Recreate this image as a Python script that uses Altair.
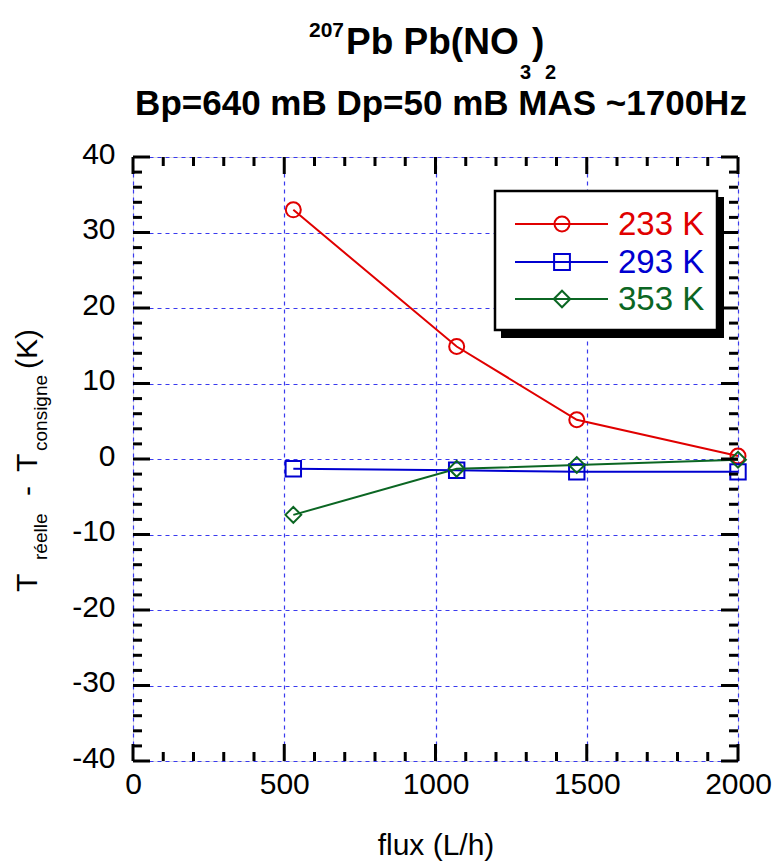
import altair as alt
import pandas as pd

# ---------------- data ----------------
flux = [530, 1070, 1467, 2000]
t233 = [33.0, 14.9, 5.2, 0.4]
t293 = [-1.3, -1.5, -1.7, -1.7]
t353 = [-7.4, -1.3, -0.8, -0.1]
series = ["233 K", "293 K", "353 K"]
colors = ["#e00000", "#0000d0", "#0b6623"]
shapes = ["circle", "square", "diamond"]
x_ticks = [0, 500, 1000, 1500, 2000]
y_ticks = [-40, -30, -20, -10, 0, 10, 20, 30, 40]
x_minor = [v for v in range(0, 2001, 100) if v % 500]
y_minor = [v for v in range(-40, 41, 2) if v % 10]

W, H = 605, 604
FONT = "Liberation Sans"

rows = []
for s, vals in zip(series, [t233, t293, t353]):
    for f, v in zip(flux, vals):
        rows.append({"flux": f, "dT": v, "serie": s})
df = pd.DataFrame(rows)

xs = alt.Scale(domain=[0, 2000], nice=False, zero=False)
ys = alt.Scale(domain=[-40, 40], nice=False, zero=False)

x_axis = alt.Axis(values=x_ticks, title="flux (L/h)", grid=True, ticks=False, tickSize=0,
                  domain=False, labelFontSize=30, labelPadding=8, labelFont=FONT,
                  labelColor="black", titleFont=FONT, titleFontSize=30,
                  labelExpr="'' + datum.value",
                  titleFontWeight="normal", titleColor="black", titlePadding=31,
                  gridColor="#3a3aee", gridDash=[4, 4], gridWidth=1.2, labelFlush=False)
y_axis = alt.Axis(values=y_ticks, title=None, grid=True, ticks=False, tickSize=0,
                  domain=False, labelFontSize=30, labelPadding=18, labelFont=FONT,
                  labelColor="black", labelOffset=-3,
                  labelExpr="'' + datum.value",
                  gridColor="#3a3aee", gridDash=[4, 4], gridWidth=1.2, labelFlush=False)


def X(field="flux"):
    return alt.X(f"{field}:Q", scale=xs, axis=x_axis)


def Y(field="dT"):
    return alt.Y(f"{field}:Q", scale=ys, axis=y_axis)


color = alt.Color("serie:N", scale=alt.Scale(domain=series, range=colors), legend=None)
shape = alt.Shape("serie:N", scale=alt.Scale(domain=series, range=shapes), legend=None)
size = alt.Size("serie:N", scale=alt.Scale(domain=series, range=[225, 250, 270]), legend=None)

base = alt.Chart(df)
lines = base.mark_line(strokeWidth=2).encode(x=X(), y=Y(), color=color)
points = base.mark_point(filled=False, strokeWidth=2, opacity=1).encode(
    x=X(), y=Y(), color=color, shape=shape, size=size)

# ---------------- inward ticks on the frame ----------------
tick_layers = []
for vals, ln in [(y_ticks, 17), (y_minor, 9)]:
    d = alt.Chart(pd.DataFrame({"dT": vals}))
    tick_layers.append(d.mark_rule(color="black", strokeWidth=3).encode(
        y=Y(), x=alt.value(0), x2=alt.value(ln)))
    tick_layers.append(d.mark_rule(color="black", strokeWidth=3).encode(
        y=Y(), x=alt.value(W), x2=alt.value(W - ln)))
for vals, ln in [(x_ticks, 17), (x_minor, 9)]:
    d = alt.Chart(pd.DataFrame({"flux": vals}))
    tick_layers.append(d.mark_rule(color="black", strokeWidth=3).encode(
        x=X(), y=alt.value(0), y2=alt.value(ln)))
    tick_layers.append(d.mark_rule(color="black", strokeWidth=3).encode(
        x=X(), y=alt.value(H), y2=alt.value(H - ln)))

one = pd.DataFrame({"a": [0]})


def txt(s, x, y, size, weight="normal", angle=0, color="black", align="left",
        baseline="alphabetic"):
    kw = dict(text=s, font=FONT, fontSize=size, fontWeight=weight, color=color,
              align=align, baseline=baseline)
    if angle:
        kw["angle"] = angle
    return alt.Chart(one).mark_text(**kw).encode(x=alt.value(x), y=alt.value(y))


OX, OY = 133, 157  # plot origin in page pixels

# ---------------- titles ----------------
title_layers = [
    txt("207", 309 - OX, 37 - OY, 21, "bold"),
    txt("Pb Pb(NO", 346 - OX, 54 - OY, 37, "bold"),
    txt("3", 520 - OX, 79 - OY, 20, "bold"),
    txt(")", 532 - OX, 54 - OY, 37, "bold"),
    txt("2", 545 - OX, 79 - OY, 20, "bold"),
    txt("Bp=640 mB Dp=50 mB MAS ~1700Hz", 441 - OX, 115 - OY, 35, "bold", align="center"),
]

# ---------------- y axis title with subscripts ----------------
ytitle_layers = [
    txt("T", 37 - OX, 592 - OY, 30, angle=270),
    txt("réelle", 47 - OX, 560 - OY, 19, angle=270),
    txt("-", 37 - OX, 496 - OY, 30, angle=270),
    txt("T", 37 - OX, 472 - OY, 30, angle=270),
    txt("consigne", 47 - OX, 451 - OY, 19, angle=270),
    txt("(K)", 37 - OX, 369 - OY, 30, angle=270),
]

# ---------------- legend box ----------------
LX0, LX1, LY0, LY1 = 495 - OX, 717 - OX, 191 - OY, 330 - OY
shadow = alt.Chart(one).mark_rect(color="black").encode(
    x=alt.value(LX0 + 6), x2=alt.value(LX1 + 7), y=alt.value(LY0 + 6), y2=alt.value(LY1 + 8))
box = alt.Chart(one).mark_rect(fill="white", stroke="black", strokeWidth=2.5).encode(
    x=alt.value(LX0), x2=alt.value(LX1), y=alt.value(LY0), y2=alt.value(LY1))
legend_layers = [shadow, box]
row_y = [224 - OY, 262 - OY, 299 - OY]
sizes = [225, 250, 270]
for s, c, shp, ry, sz in zip(series, colors, shapes, row_y, sizes):
    legend_layers.append(alt.Chart(one).mark_rule(color=c, strokeWidth=2).encode(
        x=alt.value(515 - OX), x2=alt.value(608 - OX), y=alt.value(ry)))
    legend_layers.append(alt.Chart(one).mark_point(
        shape=shp, filled=False, color=c, strokeWidth=2, size=sz, opacity=1).encode(
        x=alt.value(562 - OX), y=alt.value(ry)))
    legend_layers.append(txt(s, 618 - OX, ry + 1, 33, color=c, baseline="middle"))

chart = alt.layer(
    lines, points, *tick_layers, *legend_layers, *title_layers, *ytitle_layers
).properties(
    width=W, height=H,
    autosize=alt.AutoSizeParams(type="none"),
    padding={"left": OX, "top": OY, "right": 775 - OX - W, "bottom": 866 - OY - H},
).configure_view(
    stroke="black", strokeWidth=3, fill="white"
).configure(background="white")

chart.save("out.html", embed_options={"renderer": "svg", "actions": False})
